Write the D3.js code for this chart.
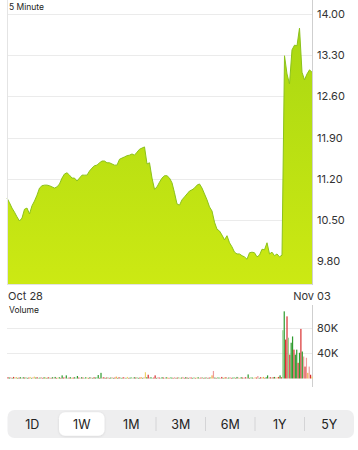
<!DOCTYPE html>
<html><head><meta charset="utf-8">
<script src="https://cdn.jsdelivr.net/npm/d3@7/dist/d3.min.js"></script>
<style>
html,body{margin:0;padding:0;background:#fff;}
svg{display:block;font-family:Inter,"Liberation Sans",Arial,sans-serif;}
</style></head><body>
<svg id="c" width="358" height="450"></svg>
<script>
// ---- data ----
const priceLabels = ["9.80","10.50","11.20","11.90","12.60","13.30","14.00"];
const priceTicks = [9.80,10.50,11.20,11.90,12.60,13.30,14.00];
const dateLabels = ["Oct 28","Nov 03"];
const volumeTicks = [40000,80000];
const volumeLabels = ["40K","80K"];
const periods = ["1D","1W","1M","3M","6M","1Y","5Y"];
const selectedPeriod = "1W";
const prices = [
10.87,10.79,10.70,10.63,10.55,10.48,10.53,10.68,10.70,10.60,
10.74,10.82,10.92,11.04,11.08,11.09,11.09,11.08,11.06,11.04,
11.06,11.11,11.21,11.28,11.30,11.26,11.21,11.21,11.16,11.21,
11.26,11.26,11.26,11.33,11.38,11.42,11.43,11.47,11.50,11.50,
11.47,11.47,11.45,11.43,11.43,11.53,11.55,11.57,11.59,11.60,
11.62,11.60,11.65,11.70,11.72,11.74,11.45,11.47,11.21,11.02,
11.06,11.14,11.21,11.25,11.25,11.21,11.13,10.96,10.77,10.75,
10.84,10.89,10.94,10.99,11.01,11.04,11.09,11.11,11.04,10.94,
10.84,10.72,10.65,10.46,10.34,10.31,10.24,10.16,10.23,10.11,
10.04,9.95,9.92,9.92,9.89,9.87,9.83,9.94,9.95,9.94,
9.87,9.90,10.00,9.99,10.11,9.92,9.95,9.89,9.92,9.87,
9.90,13.29,12.98,12.81,13.39,13.47,13.46,13.76,13.01,12.88,
12.98,13.05,13.01
];
const volumesK = [
2,1.5,2,1,2.5,1.5,2,1,1.5,2,
1,2,1.5,2,1,1.5,2.5,1,2,3,
1.5,2,1,1.5,2,1,2,1.5,1,2,
1.5,1,2,1.5,2.5,1,1.5,2,1,5,
1.5,2,5,1,1.5,2,1,1.5,2,1,
4,1.5,1,2,1.5,1,2,1.5,1,2,
1.5,1,2,1.5,2,5.5,1,9,1.5,2,
1,1.5,2,1,1.5,2,1,1.5,3,1,
2,1.5,1,2,1.5,1,2.5,1,1.5,2,
1,2,1.5,2,1,1.5,2,1,2,10,
2,6,1.5,2,1,1.5,5,1,2,1.5,
1,2,1.5,1,2,1.5,1,2,1.5,1,
2,1,1.5,2,1,1.5,2.5,1,2,1.5,
1,2,1.5,1,2,1,1.5,2,1,1.5,
2,1,1.5,2,1,1.5,2,5,12,1.5,
1,2,1.5,1,2.5,1,1.5,2,1,1.5,
2,1,1.5,2,1,2.5,1.5,1,2,1.5,
1,2,1.5,6.5,1,2,1.5,1,2,1.5,
4,1,2,1.5,2.5,1,2,5,1.5,2,
1.5,2,2.5,1.5,2,2.5,5,2,77,107,
62,99,65,38,57,67,46,38,46,25,
41,79,43,35,19,33,9,19,6,3
];
const volumeKinds = (
"r g R g r G o g r g "+"R g r G g r y g R y "+"g r G g R r g o g r "+"G r g R g r y g r g "+
"r R g G r g o r g G "+"g r R g r G g y r g "+"R g r g G g r g R r "+"g r G r g R g r o g "+
"r G g r R g y r g G "+"R g r G g r o g R y "+"g r R g G r r g R r "+"G g r R g o r G g r "+
"R g r G o g R r g r "+"g R r g G r y g R r "+"G r g R g r G o R g "+"r G g R r g o r G g "+
"R r g G r g R o g r "+"G r R g r G g R y r "+"R g r G o r g g R r "+"G r g R y r g r G g "+
"r r G r g g r g g r "+"g r g R r R o R r y").trim().split(" ");

// ---- drawing ----
const svg = d3.select("#c");
const X0 = 7, X1 = 312;
const kindColor = {g:"#2e9b2e", r:"#d93030", G:"#93d38c", R:"#ee9c9c", o:"#f2a93b", y:"#efd36a"};

const x = d3.scaleLinear().domain([0, prices.length-1]).range([X0, X1]);
const y = d3.scaleLinear().domain([9.80, 14.00]).range([261, 14]);
const plotBottom = 284;

const defs = svg.append("defs");
const grad = defs.append("linearGradient").attr("id","fillG")
  .attr("gradientUnits","userSpaceOnUse").attr("x1",0).attr("y1",0).attr("x2",0).attr("y2",plotBottom);
grad.append("stop").attr("offset","0%").attr("stop-color","#a6d612");
grad.append("stop").attr("offset","100%").attr("stop-color","#cce913");

// grid
svg.append("g").selectAll("line").data(priceTicks).join("line")
  .attr("x1",X0).attr("x2",X1).attr("y1",d=>Math.round(y(d))+0.5).attr("y2",d=>Math.round(y(d))+0.5)
  .attr("stroke","#ebebeb").attr("stroke-width",1);

// area + line
svg.append("path").datum(prices)
  .attr("d", d3.area().x((d,i)=>x(i)).y0(plotBottom).y1(d=>y(d)))
  .attr("fill","url(#fillG)");
svg.append("path").datum(prices)
  .attr("d", d3.line().x((d,i)=>x(i)).y(d=>y(d)))
  .attr("fill","none").attr("stroke","#8cc21a").attr("stroke-width",1).attr("stroke-linejoin","round");

// borders
svg.append("line").attr("x1",X0+0.5).attr("x2",X0+0.5).attr("y1",0).attr("y2",plotBottom).attr("stroke","#e4e4e4");
svg.append("line").attr("x1",X1+0.5).attr("x2",X1+0.5).attr("y1",0).attr("y2",plotBottom+1).attr("stroke","#cfcfcf");
svg.append("line").attr("x1",X0).attr("x2",X1).attr("y1",plotBottom+0.5).attr("y2",plotBottom+0.5).attr("stroke","#e2e2e2");

// price axis labels
const yAxis = d3.axisRight(y).tickValues(priceTicks).tickSize(0).tickPadding(0)
  .tickFormat((d,i)=>priceLabels[i]);
svg.append("g").attr("transform",`translate(${X1+5},0)`).call(yAxis)
  .call(g=>g.select(".domain").remove())
  .selectAll("text").attr("font-size",11).attr("fill","#333").attr("font-family","Inter,'Liberation Sans',Arial,sans-serif");

svg.append("text").attr("x",9).attr("y",10).attr("font-size",8.5).attr("fill","#222").text("5 Minute");

// date labels
svg.append("text").attr("x",X0+1).attr("y",300).attr("font-size",11).attr("fill","#333").text(dateLabels[0]);
svg.append("text").attr("x",X1).attr("y",300).attr("text-anchor","middle").attr("font-size",11).attr("fill","#333").text(dateLabels[1]);

// volume panel
const xv = d3.scaleLinear().domain([0, volumesK.length-1]).range([X0+1, X1]);
const yv = d3.scaleLinear().domain([0, 80000]).range([378.5, 328.3]);
svg.append("text").attr("x",9).attr("y",313).attr("font-size",8.5).attr("fill","#222").text("Volume");
svg.append("g").selectAll("line").data(volumeTicks).join("line")
  .attr("x1",X0).attr("x2",X1).attr("y1",d=>Math.round(yv(d))+0.5).attr("y2",d=>Math.round(yv(d))+0.5)
  .attr("stroke","#ebebeb");
svg.append("line").attr("x1",X1+0.5).attr("x2",X1+0.5).attr("y1",305).attr("y2",387).attr("stroke","#cfcfcf");
svg.append("g").selectAll("rect").data(volumesK).join("rect")
  .attr("x",(d,i)=>xv(i)-0.6).attr("width",1.2)
  .attr("y",d=>yv(d*1000)).attr("height",d=>yv(0)-yv(d*1000))
  .attr("fill",(d,i)=>kindColor[volumeKinds[i]]);
const vAxis = d3.axisRight(yv).tickValues(volumeTicks).tickSize(0).tickPadding(0)
  .tickFormat((d,i)=>volumeLabels[i]);
svg.append("g").attr("transform",`translate(${X1+5},0)`).call(vAxis)
  .call(g=>g.select(".domain").remove())
  .selectAll("text").attr("font-size",11).attr("fill","#333").attr("font-family","Inter,'Liberation Sans',Arial,sans-serif");

// segmented control
const segX0 = 7.5, segX1 = 354, segY0 = 410, segY1 = 438;
const segW = (segX1 - segX0)/periods.length;
svg.append("rect").attr("x",segX0).attr("y",segY0).attr("width",segX1-segX0).attr("height",segY1-segY0)
  .attr("rx",7).attr("fill","#eeeeef");
const selI = periods.indexOf(selectedPeriod);
defs.append("filter").attr("id","sh").attr("x","-20%").attr("y","-20%").attr("width","140%").attr("height","160%")
  .append("feDropShadow").attr("dx",0).attr("dy",0.5).attr("stdDeviation",0.8).attr("flood-color","#000").attr("flood-opacity",0.12);
svg.append("rect").attr("x",segX0+selI*segW+2).attr("y",segY0+2.3).attr("width",segW-4).attr("height",segY1-segY0-4.6)
  .attr("rx",6).attr("fill","#fff").attr("filter","url(#sh)");
periods.forEach((p,i)=>{
  if(i>0 && i!==selI && i-1!==selI){
    svg.append("line").attr("x1",segX0+i*segW).attr("x2",segX0+i*segW).attr("y1",417).attr("y2",431)
      .attr("stroke","#d4d4d6").attr("stroke-width",1);
  }
  svg.append("text").attr("x",segX0+(i+0.5)*segW).attr("y",428.5).attr("text-anchor","middle")
    .attr("font-size",12.5).attr("fill","#222").text(p);
});
</script>
</body></html>
